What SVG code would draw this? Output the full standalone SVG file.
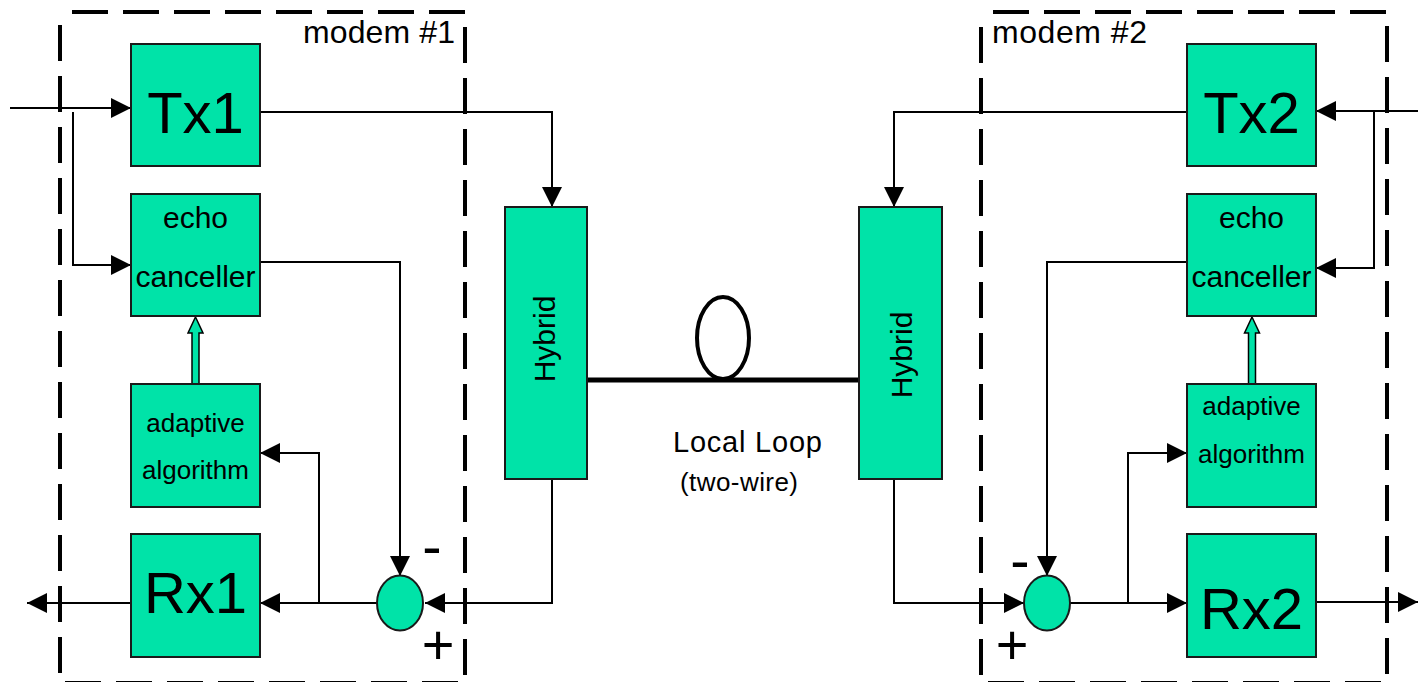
<svg xmlns="http://www.w3.org/2000/svg" width="1418" height="682" viewBox="0 0 1418 682">
<style>
.box{fill:#00E3A8;stroke:#1a1a1a;stroke-width:2}
.t{font-family:"Liberation Sans",Arial,sans-serif;fill:#000}
.c{text-anchor:middle}
.ln{fill:none;stroke:#000;stroke-width:2}
.dash{fill:none;stroke:#000;stroke-width:4;stroke-dasharray:36 15;stroke-dashoffset:39}
.blk{fill:#00E3A8;stroke:#000;stroke-width:1.5}
</style>
<defs>
<marker id="ah" markerUnits="userSpaceOnUse" markerWidth="20" markerHeight="20" refX="20" refY="10" orient="auto">
<path d="M0,0 L20,10 L0,20 z" fill="#000"/>
</marker>
</defs>
<rect width="1418" height="682" fill="#fff"/>

<g id="connectors">
<path class="ln" d="M10,108 H131" marker-end="url(#ah)"/>
<path class="ln" d="M73,112 V265 H131" marker-end="url(#ah)"/>
<path class="ln" d="M260,112 H552 V207" marker-end="url(#ah)"/>
<path class="ln" d="M260,262 H400 V576" marker-end="url(#ah)"/>
<path class="ln" d="M377,603 H260" marker-end="url(#ah)"/>
<path class="ln" d="M319,603 V453 H260" marker-end="url(#ah)"/>
<path class="ln" d="M131,603 H27" marker-end="url(#ah)"/>
<path class="ln" d="M552,479 V603 H425" marker-end="url(#ah)"/>
<polygon class="blk" points="195.5,317 203,333 199,333 199,384 192,384 192,333 188,333"/>

<path class="ln" d="M1418,111 H1316" marker-end="url(#ah)"/>
<path class="ln" d="M1374,111 V268 H1316" marker-end="url(#ah)"/>
<path class="ln" d="M1187,112 H894 V207" marker-end="url(#ah)"/>
<path class="ln" d="M1187,262 H1047 V576" marker-end="url(#ah)"/>
<path class="ln" d="M894,479 V603 H1024" marker-end="url(#ah)"/>
<path class="ln" d="M1070,603 H1187" marker-end="url(#ah)"/>
<path class="ln" d="M1128,603 V453 H1187" marker-end="url(#ah)"/>
<path class="ln" d="M1316,602 H1418" marker-end="url(#ah)"/>
<polygon class="blk" points="1252,317 1259.5,333 1255.5,333 1255.5,384 1248.5,384 1248.5,333 1244.5,333"/>

<line x1="587" y1="380" x2="859" y2="380" stroke="#000" stroke-width="5"/>
<ellipse cx="723" cy="338" rx="26" ry="41" fill="none" stroke="#000" stroke-width="4"/>
</g>

<g id="modem1">
<rect class="dash" x="60" y="12" width="405" height="671"/>
<text class="t" x="303" y="43" font-size="32" textLength="152">modem #1</text>
</g>
<g id="modem2">
<rect class="dash" x="981" y="12" width="406" height="671"/>
<text class="t" x="992" y="43" font-size="32" textLength="155">modem #2</text>
</g>

<g id="tx1"><rect class="box" x="131" y="44" width="129" height="122"/><text class="t c" x="195.5" y="133" font-size="58">Tx1</text></g>
<g id="echo1"><rect class="box" x="131" y="194" width="129" height="122"/><text class="t c" x="195.5" y="228" font-size="30">echo</text><text class="t c" x="195.5" y="287" font-size="30">canceller</text></g>
<g id="adaptive1"><rect class="box" x="131" y="384" width="129" height="123"/><text class="t c" x="195.5" y="432" font-size="26">adaptive</text><text class="t c" x="195.5" y="479" font-size="26">algorithm</text></g>
<g id="rx1"><rect class="box" x="131" y="534" width="129" height="123"/><text class="t c" x="195.5" y="613" font-size="58">Rx1</text></g>
<g id="sum1"><ellipse class="box" cx="400" cy="603" rx="23" ry="27.5"/><text class="t c" x="432" y="566" font-size="58">-</text><text class="t c" x="438" y="664" font-size="56">+</text></g>
<g id="hybrid1"><rect class="box" x="505" y="207" width="82" height="272"/><text class="t c" transform="translate(555,339) rotate(-90)" font-size="30">Hybrid</text></g>

<g id="loop"><text class="t" x="673" y="452" font-size="29" textLength="149">Local Loop</text><text class="t" x="680" y="491" font-size="26" textLength="118">(two-wire)</text></g>

<g id="hybrid2"><rect class="box" x="859" y="207" width="83" height="272"/><text class="t c" transform="translate(912,355) rotate(-90)" font-size="30">Hybrid</text></g>
<g id="tx2"><rect class="box" x="1187" y="44" width="129" height="122"/><text class="t c" x="1251.5" y="133" font-size="58">Tx2</text></g>
<g id="echo2"><rect class="box" x="1187" y="194" width="129" height="122"/><text class="t c" x="1251.5" y="228" font-size="30">echo</text><text class="t c" x="1251.5" y="287" font-size="30">canceller</text></g>
<g id="adaptive2"><rect class="box" x="1187" y="384" width="129" height="123"/><text class="t c" x="1251.5" y="415" font-size="26">adaptive</text><text class="t c" x="1251.5" y="463" font-size="26">algorithm</text></g>
<g id="rx2"><rect class="box" x="1187" y="534" width="129" height="123"/><text class="t c" x="1251.5" y="629" font-size="58">Rx2</text></g>
<g id="sum2"><ellipse class="box" cx="1047" cy="603" rx="23" ry="27.5"/><text class="t c" x="1020" y="580" font-size="58">-</text><text class="t c" x="1012" y="664" font-size="56">+</text></g>
</svg>
